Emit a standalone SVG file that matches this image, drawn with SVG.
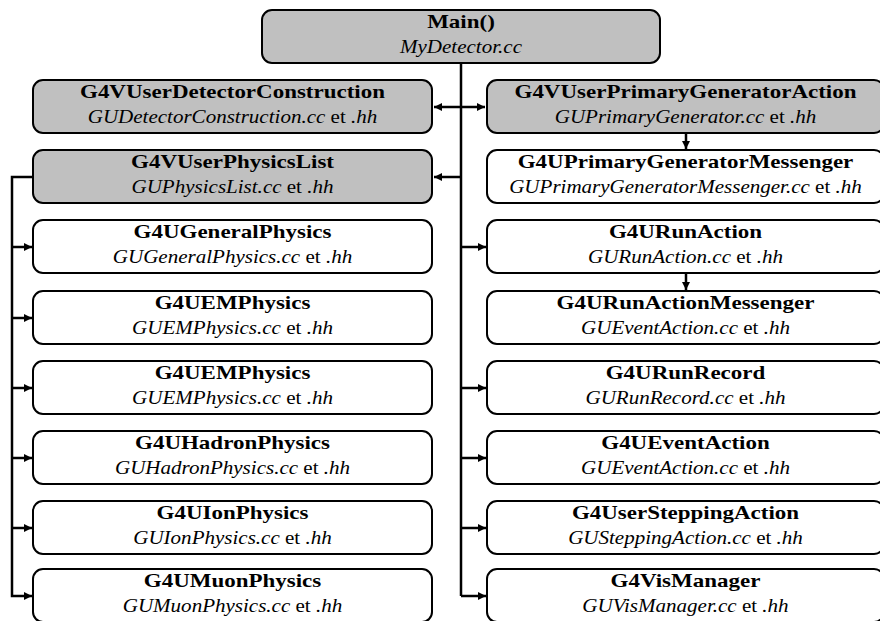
<svg xmlns="http://www.w3.org/2000/svg" width="880" height="621" viewBox="0 0 880 621">
<defs>
<style>
.box{stroke:#000;stroke-width:2;}
.g{fill:#c0c0c0;}
.w{fill:#fff;}
.t{font-family:"Liberation Serif","Times New Roman",serif;font-size:19px;font-weight:bold;text-anchor:middle;fill:#000;}
.s{font-family:"Liberation Serif","Times New Roman",serif;font-size:19px;text-anchor:middle;fill:#000;}
.i{font-style:italic;}
.c{fill:none;stroke:#000;stroke-width:2.5;}
</style>
<marker id="ah" viewBox="0 0 10 10" refX="10" refY="5" markerWidth="3.2" markerHeight="3.2" markerUnits="strokeWidth" orient="auto-start-reverse">
<path d="M0,0 L10,5 L0,10 z" fill="#000"/>
</marker>
</defs>
<rect width="880" height="621" fill="#fff"/>

<g id="connectors">
<path class="c" d="M461,63 V596"/>
<path class="c" d="M434,107 H485" marker-start="url(#ah)" marker-end="url(#ah)"/>
<path class="c" d="M461,177 H434" marker-end="url(#ah)"/>
<path class="c" d="M461,247 H486" marker-end="url(#ah)"/>
<path class="c" d="M461,388 H486" marker-end="url(#ah)"/>
<path class="c" d="M461,458 H486" marker-end="url(#ah)"/>
<path class="c" d="M461,528 H486" marker-end="url(#ah)"/>
<path class="c" d="M461,596 H486" marker-end="url(#ah)"/>
<path class="c" d="M686,133 V149" marker-end="url(#ah)"/>
<path class="c" d="M686,273 V290" marker-end="url(#ah)"/>
<path class="c" d="M33,177 H12 V596 H32" marker-end="url(#ah)"/>
<path class="c" d="M12,247 H32" marker-end="url(#ah)"/>
<path class="c" d="M12,318 H32" marker-end="url(#ah)"/>
<path class="c" d="M12,388 H32" marker-end="url(#ah)"/>
<path class="c" d="M12,458 H32" marker-end="url(#ah)"/>
<path class="c" d="M12,528 H32" marker-end="url(#ah)"/>
</g>

<g id="main">
<rect class="box g" x="262" y="10" width="398" height="53" rx="10"/>
<text class="t" transform="translate(461,28) scale(1.21,1)">Main()</text>
<text class="s i" transform="translate(461,53) scale(1.107,1)">MyDetector.cc</text>
</g>

<g id="detector">
<rect class="box g" x="33" y="80" width="399" height="53" rx="10"/>
<text class="t" transform="translate(232.5,98) scale(1.21,1)">G4VUserDetectorConstruction</text>
<text class="s" transform="translate(232.5,123) scale(1.107,1)"><tspan class="i">GUDetectorConstruction.cc</tspan> et <tspan class="i">.hh</tspan></text>
</g>
<g id="physicslist">
<rect class="box g" x="33" y="150" width="399" height="53" rx="10"/>
<text class="t" transform="translate(232.5,168) scale(1.21,1)">G4VUserPhysicsList</text>
<text class="s" transform="translate(232.5,193) scale(1.107,1)"><tspan class="i">GUPhysicsList.cc</tspan> et <tspan class="i">.hh</tspan></text>
</g>
<g id="general">
<rect class="box w" x="33" y="220" width="399" height="53" rx="10"/>
<text class="t" transform="translate(232.5,238) scale(1.21,1)">G4UGeneralPhysics</text>
<text class="s" transform="translate(232.5,263) scale(1.107,1)"><tspan class="i">GUGeneralPhysics.cc</tspan> et <tspan class="i">.hh</tspan></text>
</g>
<g id="em1">
<rect class="box w" x="33" y="291" width="399" height="53" rx="10"/>
<text class="t" transform="translate(232.5,309) scale(1.21,1)">G4UEMPhysics</text>
<text class="s" transform="translate(232.5,334) scale(1.107,1)"><tspan class="i">GUEMPhysics.cc</tspan> et <tspan class="i">.hh</tspan></text>
</g>
<g id="em2">
<rect class="box w" x="33" y="361" width="399" height="53" rx="10"/>
<text class="t" transform="translate(232.5,379) scale(1.21,1)">G4UEMPhysics</text>
<text class="s" transform="translate(232.5,404) scale(1.107,1)"><tspan class="i">GUEMPhysics.cc</tspan> et <tspan class="i">.hh</tspan></text>
</g>
<g id="hadron">
<rect class="box w" x="33" y="431" width="399" height="53" rx="10"/>
<text class="t" transform="translate(232.5,449) scale(1.21,1)">G4UHadronPhysics</text>
<text class="s" transform="translate(232.5,474) scale(1.107,1)"><tspan class="i">GUHadronPhysics.cc</tspan> et <tspan class="i">.hh</tspan></text>
</g>
<g id="ion">
<rect class="box w" x="33" y="501" width="399" height="53" rx="10"/>
<text class="t" transform="translate(232.5,519) scale(1.21,1)">G4UIonPhysics</text>
<text class="s" transform="translate(232.5,544) scale(1.107,1)"><tspan class="i">GUIonPhysics.cc</tspan> et <tspan class="i">.hh</tspan></text>
</g>
<g id="muon">
<rect class="box w" x="33" y="569" width="399" height="53" rx="10"/>
<text class="t" transform="translate(232.5,587) scale(1.21,1)">G4UMuonPhysics</text>
<text class="s" transform="translate(232.5,612) scale(1.107,1)"><tspan class="i">GUMuonPhysics.cc</tspan> et <tspan class="i">.hh</tspan></text>
</g>

<g id="primarygen">
<rect class="box g" x="487" y="80" width="397" height="53" rx="10"/>
<text class="t" transform="translate(685.5,98) scale(1.21,1)">G4VUserPrimaryGeneratorAction</text>
<text class="s" transform="translate(685.5,123) scale(1.107,1)"><tspan class="i">GUPrimaryGenerator.cc</tspan> et <tspan class="i">.hh</tspan></text>
</g>
<g id="primarygenmsg">
<rect class="box w" x="487" y="150" width="397" height="53" rx="10"/>
<text class="t" transform="translate(685.5,168) scale(1.21,1)">G4UPrimaryGeneratorMessenger</text>
<text class="s" transform="translate(685.5,193) scale(1.107,1)"><tspan class="i">GUPrimaryGeneratorMessenger.cc</tspan> et <tspan class="i">.hh</tspan></text>
</g>
<g id="runaction">
<rect class="box w" x="487" y="220" width="397" height="53" rx="10"/>
<text class="t" transform="translate(685.5,238) scale(1.21,1)">G4URunAction</text>
<text class="s" transform="translate(685.5,263) scale(1.107,1)"><tspan class="i">GURunAction.cc</tspan> et <tspan class="i">.hh</tspan></text>
</g>
<g id="runactionmsg">
<rect class="box w" x="487" y="291" width="397" height="53" rx="10"/>
<text class="t" transform="translate(685.5,309) scale(1.21,1)">G4URunActionMessenger</text>
<text class="s" transform="translate(685.5,334) scale(1.107,1)"><tspan class="i">GUEventAction.cc</tspan> et <tspan class="i">.hh</tspan></text>
</g>
<g id="runrecord">
<rect class="box w" x="487" y="361" width="397" height="53" rx="10"/>
<text class="t" transform="translate(685.5,379) scale(1.21,1)">G4URunRecord</text>
<text class="s" transform="translate(685.5,404) scale(1.107,1)"><tspan class="i">GURunRecord.cc</tspan> et <tspan class="i">.hh</tspan></text>
</g>
<g id="eventaction">
<rect class="box w" x="487" y="431" width="397" height="53" rx="10"/>
<text class="t" transform="translate(685.5,449) scale(1.21,1)">G4UEventAction</text>
<text class="s" transform="translate(685.5,474) scale(1.107,1)"><tspan class="i">GUEventAction.cc</tspan> et <tspan class="i">.hh</tspan></text>
</g>
<g id="stepping">
<rect class="box w" x="487" y="501" width="397" height="53" rx="10"/>
<text class="t" transform="translate(685.5,519) scale(1.21,1)">G4UserSteppingAction</text>
<text class="s" transform="translate(685.5,544) scale(1.107,1)"><tspan class="i">GUSteppingAction.cc</tspan> et <tspan class="i">.hh</tspan></text>
</g>
<g id="vismanager">
<rect class="box w" x="487" y="569" width="397" height="53" rx="10"/>
<text class="t" transform="translate(685.5,587) scale(1.21,1)">G4VisManager</text>
<text class="s" transform="translate(685.5,612) scale(1.107,1)"><tspan class="i">GUVisManager.cc</tspan> et <tspan class="i">.hh</tspan></text>
</g>
</svg>
